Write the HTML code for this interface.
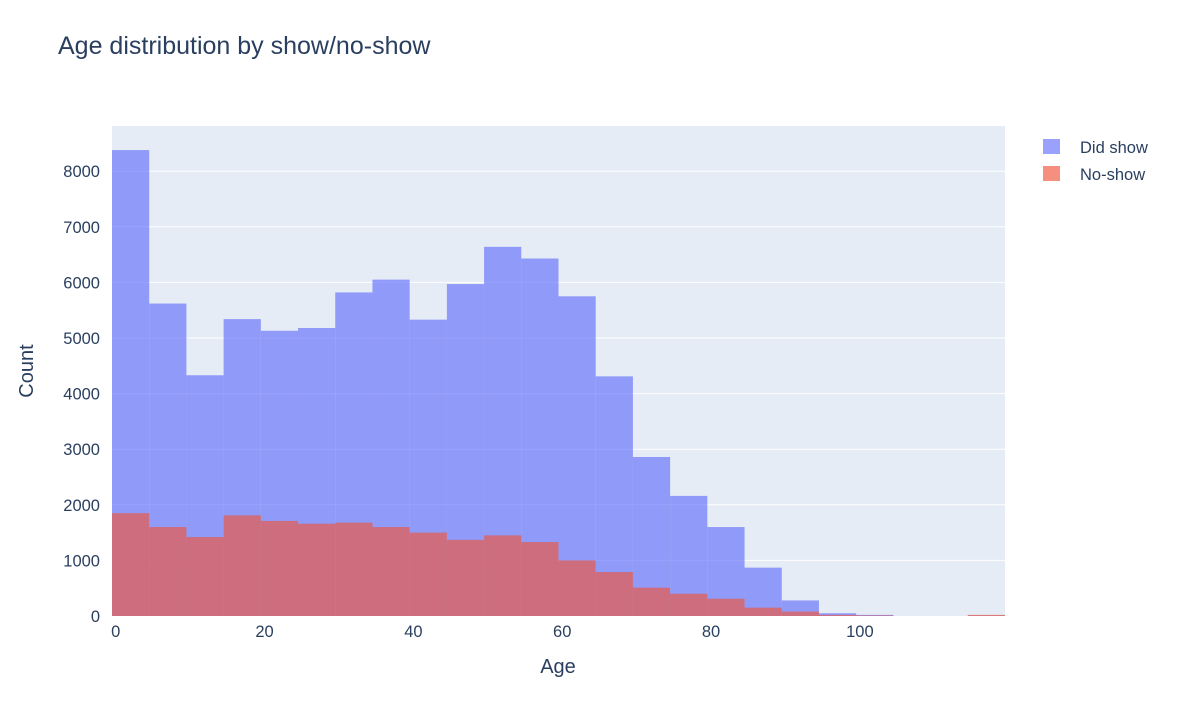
<!DOCTYPE html>
<html><head><meta charset="utf-8"><style>
body{margin:0;background:#fff;}
svg text{font-family:"Liberation Sans",sans-serif;fill:#2a3f5f;}
</style></head><body>
<svg width="1200" height="697" xmlns="http://www.w3.org/2000/svg">
<rect x="0" y="0" width="1200" height="697" fill="#fff"/>
<text x="58" y="54" font-size="25">Age distribution by show/no-show</text>
<rect x="112" y="126" width="893" height="490" fill="#E5ECF6"/>
<g id="grid"></g>
<g id="bars"></g>
<g id="ticks"></g>
<text x="558" y="673" font-size="20" text-anchor="middle">Age</text>
<text transform="translate(33,371) rotate(-90)" font-size="20" text-anchor="middle">Count</text>
<g>
<g>
<rect x="1043" y="139" width="17" height="15" fill="rgba(99,110,250,0.65)"/>
<text x="1080" y="153" font-size="16.5">Did show</text></g>
<g>
<rect x="1043" y="166" width="17" height="15" fill="rgba(239,85,59,0.65)"/>
<text x="1080" y="180" font-size="16.5">No-show</text></g>
</g>
</svg>
<script>
const binStart = -0.5;
const binWidth = 5;
const didShow = [8380,5620,4330,5340,5130,5180,5820,6050,5330,5970,6640,6430,5750,4310,2860,2160,1600,870,280,50,20,0,0,10];
const noShow = [1850,1600,1420,1810,1710,1660,1680,1600,1500,1370,1450,1330,1000,790,510,400,310,150,80,20,10,0,0,20];
const xTicks = [0,20,40,60,80,100];
const yTicks = [0,1000,2000,3000,4000,5000,6000,7000,8000];
const X0=112,X1=1005,Y0=616,Y1=126,xMin=-0.5,xMax=119.5,yMax=8813;
const sx=v=>X0+(v-xMin)/(xMax-xMin)*(X1-X0);
const sy=v=>Y0-v/yMax*(Y0-Y1);
const NS="http://www.w3.org/2000/svg";
function mk(tag,attrs,parent){const e=document.createElementNS(NS,tag);for(const k in attrs)e.setAttribute(k,attrs[k]);parent.appendChild(e);return e;}
const grid=document.getElementById('grid'),bars=document.getElementById('bars'),ticks=document.getElementById('ticks');
yTicks.forEach(t=>{
  if(t>0){const l=mk('line',{x1:X0,x2:X1,y1:sy(t),y2:sy(t),stroke:'#fff','stroke-width':1},grid);
  
  }
  const tx=mk('text',{x:100,y:sy(t)+6,'font-size':16.5,'text-anchor':'end'},ticks);tx.textContent=t;
  
  
});
xTicks.forEach(t=>{
  const tx=mk('text',{x:sx(t),y:637,'font-size':16.5,'text-anchor':'middle'},ticks);tx.textContent=t;
  
  
});
function series(vals,color,name){
  vals.forEach((v,i)=>{
    if(v<=0)return;
    const a=sx(binStart+i*binWidth),b=sx(binStart+(i+1)*binWidth);
    const r=mk('rect',{x:a,y:sy(v),width:b-a,height:Y0-sy(v),fill:color},bars);
    
    
  });
}
series(didShow,'rgba(99,110,250,0.65)','did-show');
series(noShow,'rgba(239,85,59,0.65)','no-show');
</script>
</body></html>
